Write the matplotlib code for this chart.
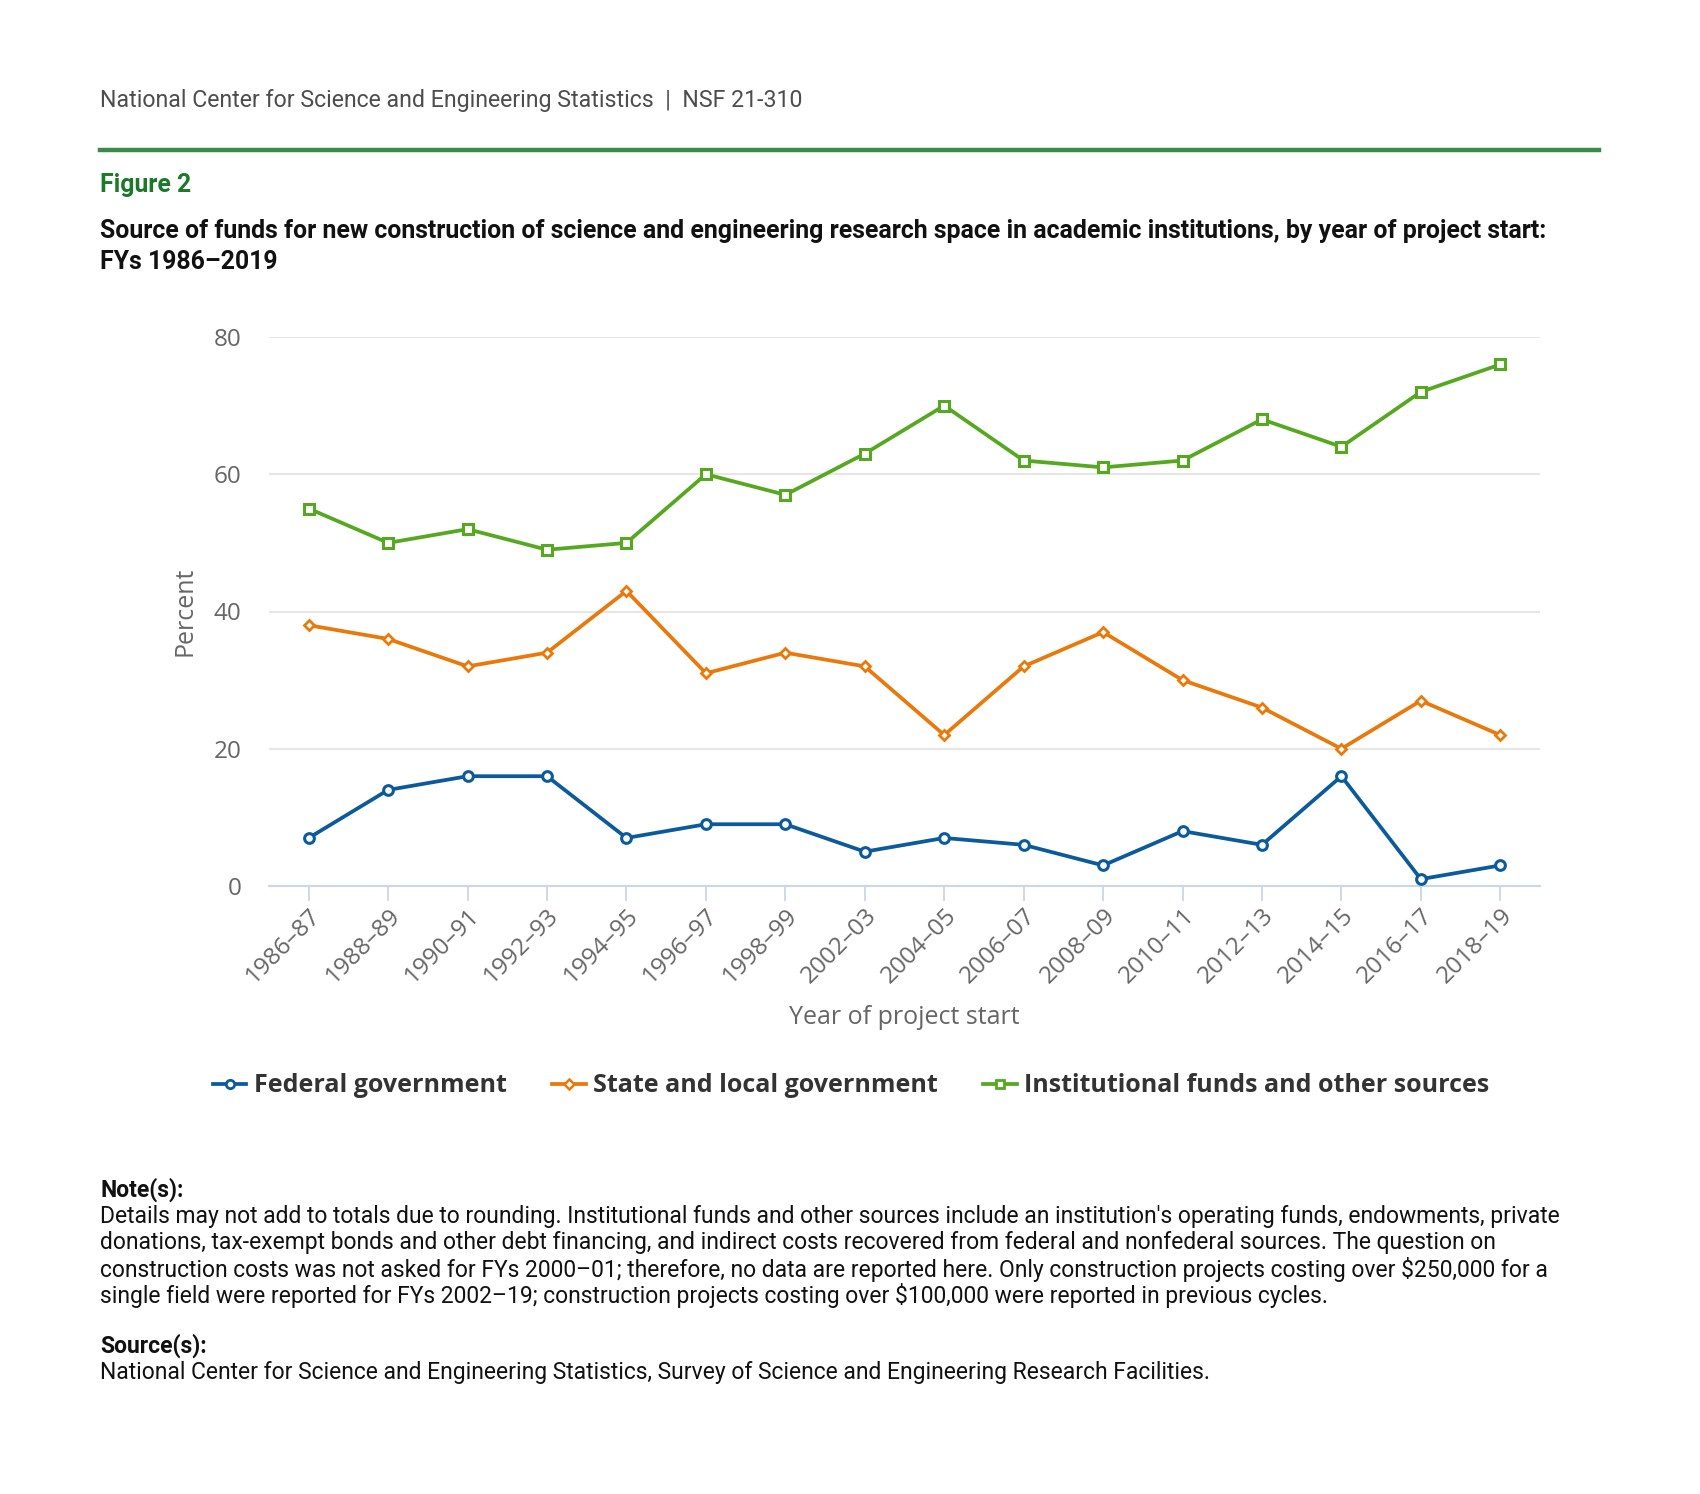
import matplotlib
matplotlib.use("Agg")
import matplotlib.pyplot as plt
from matplotlib.lines import Line2D

categories = ["1986–87", "1988–89", "1990–91", "1992–93", "1994–95", "1996–97",
              "1998–99", "2002–03", "2004–05", "2006–07", "2008–09", "2010–11",
              "2012–13", "2014–15", "2016–17", "2018–19"]
federal = [7, 14, 16, 16, 7, 9, 9, 5, 7, 6, 3, 8, 6, 16, 1, 3]
state_local = [38, 36, 32, 34, 43, 31, 34, 32, 22, 32, 37, 30, 26, 20, 27, 22]
institutional = [55, 50, 52, 49, 50, 60, 57, 63, 70, 62, 61, 62, 68, 64, 72, 76]
series_names = ["Federal government", "State and local government",
                "Institutional funds and other sources"]
y_ticks = [0, 20, 40, 60, 80]

W, H = 1700, 1494
fig = plt.figure(figsize=(W / 100, H / 100), dpi=100)
fig.patch.set_facecolor("white")

def fx(px):
    return px / W

def fy(py):
    return 1 - py / H

# Header
fig.text(fx(100), fy(100), "National Center for Science and Engineering Statistics  |  NSF 21-310",
         family="Roboto", fontsize=16.7, color="#4d4d4d", va="center", ha="left")
fig.add_artist(Line2D([fx(100), fx(1599)], [fy(149.5), fy(149.5)],
                      color="#3b8b47", linewidth=3.2, transform=fig.transFigure))
fig.text(fx(100), fy(185), "Figure 2", family="Roboto", fontweight="bold",
         fontsize=17.8, color="#1a7a2a", va="center", ha="left")
fig.text(fx(100), fy(231),
         "Source of funds for new construction of science and engineering research space in academic institutions, by year of project start:",
         family="Roboto", fontweight="bold", fontsize=17.9, color="#111111", va="center", ha="left")
fig.text(fx(100), fy(262), "FYs 1986–2019", family="Roboto", fontweight="bold",
         fontsize=17.9, color="#111111", va="center", ha="left")

# Axes
left, right, top, bottom = 269, 1540, 337, 886
ax = fig.add_axes([fx(left), fy(bottom), (right - left) / W, (bottom - top) / H])
x = list(range(len(categories)))

blue = "#0a5a9c"
orange = "#e8790a"
green = "#55a820"

ax.plot(x, federal, color=blue, linewidth=2.7, marker="o", markersize=7,
        markerfacecolor="white", markeredgecolor=blue, markeredgewidth=2.2,
        clip_on=False, zorder=3)
ax.plot(x, state_local, color=orange, linewidth=2.7, marker="D", markersize=5.5,
        markerfacecolor="white", markeredgecolor=orange, markeredgewidth=2.0,
        clip_on=False, zorder=3)
ax.plot(x, institutional, color=green, linewidth=2.7, marker="s", markersize=6.5,
        markerfacecolor="white", markeredgecolor=green, markeredgewidth=2.2,
        clip_on=False, zorder=3)

ax.set_xlim(-0.5, len(categories) - 0.5)
ax.set_ylim(0, 80)
ax.set_yticks(y_ticks)
ax.set_yticklabels([str(v) for v in y_ticks], family="Open Sans", fontsize=17.5, color="#666666")
ax.set_xticks(x)
ax.set_xticklabels(categories, family="Open Sans", fontsize=17.5, color="#666666",
                   rotation=45, ha="right", va="top", rotation_mode="anchor")
ax.tick_params(axis="y", length=0, pad=20)
ax.tick_params(axis="x", length=11, width=1.3, color="#ccd6eb", pad=2)
ax.grid(axis="y", color="#e6e6e6", linewidth=1.5)
ax.set_axisbelow(True)
for s in ["top", "right", "left"]:
    ax.spines[s].set_visible(False)
ax.spines["bottom"].set_color("#ccd6eb")
ax.spines["bottom"].set_linewidth(1.5)
ax.spines["bottom"].set_zorder(2)

ax.set_ylabel("Percent", family="Open Sans", fontsize=18, color="#666666")
ax.yaxis.set_label_coords((198 - left) / (right - left), 0.5)
fig.text(fx((left + right) / 2), fy(1017), "Year of project start", family="Open Sans",
         fontsize=18, color="#666666", ha="center", va="center")

# Legend
handles = [
    Line2D([0], [0], color=blue, linewidth=2.7, marker="o", markersize=6,
           markerfacecolor="white", markeredgecolor=blue, markeredgewidth=2.0),
    Line2D([0], [0], color=orange, linewidth=2.7, marker="D", markersize=5,
           markerfacecolor="white", markeredgecolor=orange, markeredgewidth=1.8),
    Line2D([0], [0], color=green, linewidth=2.7, marker="s", markersize=6,
           markerfacecolor="white", markeredgecolor=green, markeredgewidth=2.0),
]
leg = fig.legend(handles, series_names, loc="center", bbox_to_anchor=(fx(851), fy(1086)),
                 ncol=3, frameon=False, handlelength=1.35, handletextpad=0.3,
                 columnspacing=1.8,
                 prop={"family": "Open Sans", "weight": "bold", "size": 18})
for t in leg.get_texts():
    t.set_color("#333333")

# Notes
fig.text(fx(100), fy(1190), "Note(s):", family="Roboto", fontweight="bold", fontsize=16.5,
         color="#111111", va="center", ha="left")
note_lines = [
    "Details may not add to totals due to rounding. Institutional funds and other sources include an institution's operating funds, endowments, private",
    "donations, tax-exempt bonds and other debt financing, and indirect costs recovered from federal and nonfederal sources. The question on",
    "construction costs was not asked for FYs 2000–01; therefore, no data are reported here. Only construction projects costing over $250,000 for a",
    "single field were reported for FYs 2002–19; construction projects costing over $100,000 were reported in previous cycles.",
]
for i, line in enumerate(note_lines):
    fig.text(fx(100), fy(1217 + 26 * i), line, family="Roboto", fontsize=16.5,
             color="#111111", va="center", ha="left")
fig.text(fx(100), fy(1346), "Source(s):", family="Roboto", fontweight="bold", fontsize=16.5,
         color="#111111", va="center", ha="left")
fig.text(fx(100), fy(1372),
         "National Center for Science and Engineering Statistics, Survey of Science and Engineering Research Facilities.",
         family="Roboto", fontsize=16.5, color="#111111", va="center", ha="left")

fig.savefig("out.png", dpi=100, facecolor="white")
